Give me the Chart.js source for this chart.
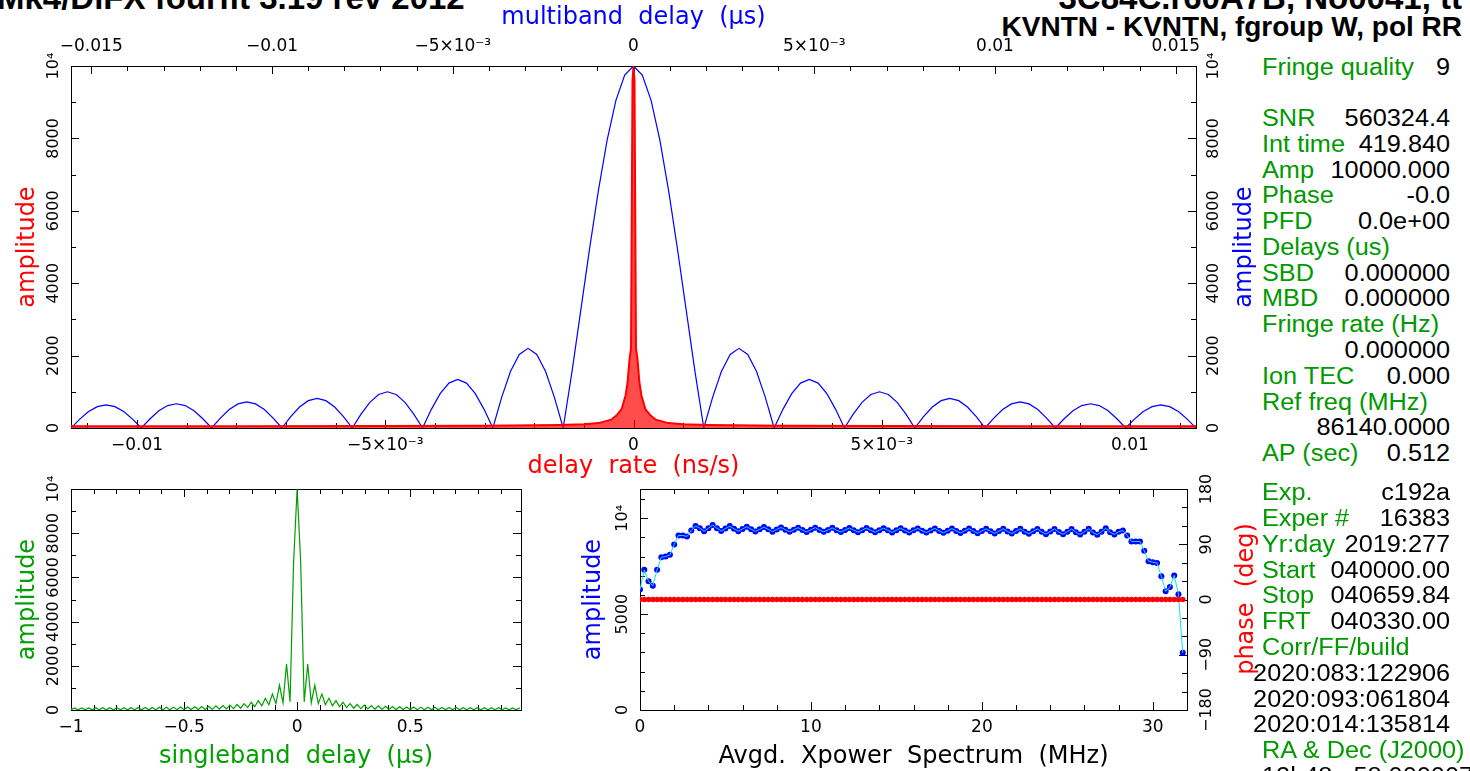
<!DOCTYPE html>
<html lang="en">
<head>
<meta charset="UTF-8" />
<title>fourfit fringe plot</title>
<script src="https://cdn.jsdelivr.net/npm/chart.js"></script>
<style>
  body {
    margin: 0;
    width: 1470px;
    height: 771px;
    overflow: hidden;
    background: #fff;
    position: relative;
    font-family: "Liberation Sans", Arial, sans-serif;
  }
  canvas { position: absolute; }
  #topChart { left: 0; top: 0; }
  #sbdChart { left: 0; top: 470px; }
  #specChart { left: 560px; top: 470px; }
  .head {
    position: absolute;
    font-weight: bold;
    white-space: nowrap;
    color: #000;
  }
  .big { font-size: 33px; line-height: 33px; top: -19px; }
  .sub { font-size: 28px; line-height: 28px; top: 13px; }
  .vtitle {
    position: absolute;
    font-family: "DejaVu Sans", sans-serif;
    font-size: 24px;
    line-height: 24px;
    white-space: pre;
    transform: translate(-50%, -50%) rotate(-90deg);
  }
  .panel {
    position: absolute;
    left: 1262px;
    width: 171px;
    transform-origin: 0 0;
    transform: scaleX(1.1);
    font-size: 23px;
    line-height: 25.77px;
  }
  .row {
    display: flex;
    justify-content: space-between;
    white-space: nowrap;
    height: 25.77px;
  }
  .row.r { justify-content: flex-end; }
  .k { color: #009900; }
  .v { color: #000; }
</style>
</head>
<body>
<div class="head big" style="left:-3px">Mk4/DiFX fourfit 3.19 rev 2012</div>
<div class="head big" style="right:8px">3C84C.r60A7B, No0041, tt</div>
<div class="head sub" style="right:8px">KVNTN - KVNTN, fgroup W, pol RR</div>

<canvas id="topChart" width="1250" height="485"></canvas>
<canvas id="sbdChart" width="540" height="301"></canvas>
<canvas id="specChart" width="690" height="301"></canvas>

<div class="vtitle" style="left:1243px; top:247px; color:#0000ff">amplitude</div>
<div class="vtitle" style="left:1245px; top:599px; color:#ff0000">phase  (deg)</div>

<div class="panel" style="top:54.6px">
  <div class="row"><span class="k">Fringe quality</span><span class="v">9</span></div>
  <div class="row"></div>
  <div class="row"><span class="k">SNR</span><span class="v">560324.4</span></div>
  <div class="row"><span class="k">Int time</span><span class="v">419.840</span></div>
  <div class="row"><span class="k">Amp</span><span class="v">10000.000</span></div>
  <div class="row"><span class="k">Phase</span><span class="v">-0.0</span></div>
  <div class="row"><span class="k">PFD</span><span class="v">0.0e+00</span></div>
  <div class="row"><span class="k">Delays (us)</span></div>
  <div class="row"><span class="k">SBD</span><span class="v">0.000000</span></div>
  <div class="row"><span class="k">MBD</span><span class="v">0.000000</span></div>
  <div class="row"><span class="k">Fringe rate (Hz)</span></div>
  <div class="row r"><span class="v">0.000000</span></div>
  <div class="row"><span class="k">Ion TEC</span><span class="v">0.000</span></div>
  <div class="row"><span class="k">Ref freq (MHz)</span></div>
  <div class="row r"><span class="v">86140.0000</span></div>
  <div class="row"><span class="k">AP (sec)</span><span class="v">0.512</span></div>
</div>

<div class="panel" style="top:480.4px">
  <div class="row"><span class="k">Exp.</span><span class="v">c192a</span></div>
  <div class="row"><span class="k">Exper #</span><span class="v">16383</span></div>
  <div class="row"><span class="k">Yr:day</span><span class="v">2019:277</span></div>
  <div class="row"><span class="k">Start</span><span class="v">040000.00</span></div>
  <div class="row"><span class="k">Stop</span><span class="v">040659.84</span></div>
  <div class="row"><span class="k">FRT</span><span class="v">040330.00</span></div>
  <div class="row"><span class="k">Corr/FF/build</span></div>
  <div class="row r"><span class="v">2020:083:122906</span></div>
  <div class="row r"><span class="v">2020:093:061804</span></div>
  <div class="row r"><span class="v">2020:014:135814</span></div>
  <div class="row"><span class="k">RA &amp; Dec (J2000)</span></div>
  <div class="row"><span class="v">12h48m</span><span class="v">58.000007</span></div>
</div>

<script>
  // ---- values ----

  // multiband delay (us), top axis; samples span the window evenly
  const mbdRange = [-0.01556, 0.01556];
  const mbdAmp = [
    0, 245, 455, 590, 640, 590, 455, 245,
    0, 255, 475, 620, 670, 620, 475, 255,
    0, 275, 510, 665, 720, 665, 510, 275,
    0, 315, 580, 755, 820, 755, 580, 315,
    0, 385, 710, 925, 1000, 925, 710, 385,
    0, 515, 950, 1240, 1340, 1240, 950, 515,
    0, 845, 1560, 2030, 2200, 2030, 1560, 845,
    0, 1550, 3250, 4950, 6550, 7950, 9050, 9750,
    10000, 9750, 9050, 7950, 6550, 4950, 3250, 1550,
    0, 845, 1560, 2030, 2200, 2030, 1560, 845,
    0, 515, 950, 1240, 1340, 1240, 950, 515,
    0, 385, 710, 925, 1000, 925, 710, 385,
    0, 315, 580, 755, 820, 755, 580, 315,
    0, 275, 510, 665, 720, 665, 510, 275,
    0, 255, 475, 620, 670, 620, 475, 255,
    0, 245, 455, 590, 640, 590, 455, 245,
    0
  ];

  // delay rate (ns/s), bottom axis
  const rateRange = [-0.01133, 0.01133];
  const rateX = [
    -0.01133, -0.008, -0.005, -0.003, -0.002, -0.0015, -0.001, -0.0007,
    -0.00045, -0.00034, -0.00024, -0.00016, -0.00012, -0.00008, -0.00005, -0.00002,
    0,
    0.00002, 0.00005, 0.00008, 0.00012, 0.00016, 0.00024, 0.00034, 0.00045,
    0.0007, 0.001, 0.0015, 0.002, 0.003, 0.005, 0.008, 0.01133
  ];
  const rateAmp = [
    45, 50, 55, 65, 75, 85, 105, 135,
    230, 350, 520, 900, 1250, 1900, 2200, 9600,
    10000,
    9600, 2200, 1900, 1250, 900, 520, 350, 230,
    135, 105, 85, 75, 65, 55, 50, 45
  ];

  // singleband delay (us), one sample every 1/64 us from -1
  const sbdRange = [-1, 0.99];
  const sbdStep = 1 / 64;
  const sbdAmp = [
    10, 95, 10, 95, 10, 95, 10, 100, 10, 100, 10, 100, 10, 100, 10, 105,
    10, 105, 10, 110, 10, 110, 10, 115, 10, 120, 10, 125, 10, 130, 15, 135,
    15, 140, 20, 150, 20, 160, 25, 170, 30, 185, 35, 200, 45, 220, 60, 250,
    80, 290, 110, 350, 150, 420, 190, 530, 240, 720, 290, 1130, 330, 2080, 370, 6700,
    10000,
    6700, 370, 2080, 330, 1130, 290, 720, 240, 530, 190, 420, 150, 350, 110, 290,
    80, 250, 60, 220, 45, 200, 35, 185, 30, 170, 25, 160, 20, 150, 20, 140,
    15, 135, 15, 130, 10, 125, 10, 120, 10, 115, 10, 110, 10, 110, 10, 105,
    10, 105, 10, 100, 10, 100, 10, 100, 10, 100, 10, 95, 10, 95, 10, 95
  ];

  // averaged cross-power spectrum, one point every 0.25 MHz from 0
  const specStep = 0.25;
  const specAmp = [
    6280, 7310, 6710, 6480, 7310, 7970, 8000, 8090,
    8630, 9100, 9100, 9050, 9360, 9600, 9480, 9320,
    9480, 9650, 9480, 9330, 9460, 9590, 9450, 9320,
    9440, 9560, 9430, 9310, 9420, 9540, 9420, 9300,
    9410, 9520, 9400, 9290, 9400, 9510, 9390, 9280,
    9400, 9510, 9390, 9290, 9390, 9500, 9380, 9280,
    9390, 9490, 9380, 9270, 9380, 9490, 9370, 9270,
    9380, 9480, 9370, 9260, 9370, 9480, 9360, 9250,
    9370, 9470, 9350, 9250, 9360, 9470, 9340, 9240,
    9350, 9460, 9340, 9230, 9350, 9460, 9330, 9220,
    9340, 9450, 9320, 9210, 9330, 9450, 9310, 9200,
    9330, 9450, 9300, 9190, 9320, 9440, 9290, 9170,
    9310, 9440, 9280, 9160, 9300, 9440, 9270, 9150,
    9300, 9450, 9260, 9140, 9300, 9480, 9270, 9150,
    9290, 9360, 9100, 8790, 8790, 8790, 8300, 7760,
    7710, 7660, 6970, 6190, 6410, 7020, 6030, 2980
  ];
  const specPhase = [
    0, 0, 0, 0, 0, 0, 0, 0, 0, 0, 0, 0, 0, 0, 0, 0,
    0, 0, 0, 0, 0, 0, 0, 0, 0, 0, 0, 0, 0, 0, 0, 0,
    0, 0, 0, 0, 0, 0, 0, 0, 0, 0, 0, 0, 0, 0, 0, 0,
    0, 0, 0, 0, 0, 0, 0, 0, 0, 0, 0, 0, 0, 0, 0, 0,
    0, 0, 0, 0, 0, 0, 0, 0, 0, 0, 0, 0, 0, 0, 0, 0,
    0, 0, 0, 0, 0, 0, 0, 0, 0, 0, 0, 0, 0, 0, 0, 0,
    0, 0, 0, 0, 0, 0, 0, 0, 0, 0, 0, 0, 0, 0, 0, 0,
    0, 0, 0, 0, 0, 0, 0, 0, 0, 0, 0, 0, 0, 0, 0, 0
  ];

  // tick labels
  const mbdTickValues = [-0.015, -0.01, -0.005, 0, 0.005, 0.01, 0.015];
  const mbdTickLabels = ['−0.015', '−0.01', '−5×10⁻³', '0', '5×10⁻³', '0.01', '0.015'];
  const rateTickValues = [-0.01, -0.005, 0, 0.005, 0.01];
  const rateTickLabels = ['−0.01', '−5×10⁻³', '0', '5×10⁻³', '0.01'];
  const ampTickValues = [0, 2000, 4000, 6000, 8000, 10000];
  const ampTickLabels = ['0', '2000', '4000', '6000', '8000', '10⁴'];
  const sbdTickValues = [-1, -0.5, 0, 0.5];
  const sbdTickLabels = ['−1', '−0.5', '0', '0.5'];
  const freqTickValues = [0, 10, 20, 30];
  const freqTickLabels = ['0', '10', '20', '30'];
  const specAmpTickValues = [0, 5000, 10000];
  const specAmpTickLabels = ['0', '5000', '10⁴'];
  const phaseTickValues = [-180, -90, 0, 90, 180];
  const phaseTickLabels = ['−180', '−90', '0', '90', '180'];

  // ---- helpers ----
  Chart.defaults.font.family = "'DejaVu Sans', sans-serif";
  Chart.defaults.color = '#000';

  const titleFont = { size: 24, lineHeight: 1 };

  function labeler(vals, labs) {
    return (v) => {
      const i = vals.findIndex((t) => Math.abs(t - v) < 1e-6);
      return i < 0 ? '' : labs[i];
    };
  }

  // linear axis, minor ticks every `step`, labels only where a tick label is listed
  function axis(position, min, max, step, vals, labs, size, tickPad, title) {
    const vertical = position === 'left' || position === 'right';
    const cfg = {
      type: 'linear',
      position: position,
      min: min,
      max: max,
      grid: { display: false, drawTicks: false },
      border: { display: false },
      ticks: {
        maxTicksLimit: 1000,
        autoSkip: false,
        font: { size: vertical ? 16 : 17 },
        color: '#000',
        padding: tickPad,
        minRotation: vertical ? 90 : 0,
        maxRotation: vertical ? 90 : 0,
        crossAlign: vertical ? 'center' : 'near',
        callback: labeler(vals, labs),
      },
      // one tick on every multiple of the minor step inside the axis range
      afterBuildTicks: (s) => {
        const ticks = [];
        const first = Math.ceil(min / step - 1e-9);
        const last = Math.floor(max / step + 1e-9);
        for (let n = first; n <= last; n++) ticks.push({ value: +(n * step).toFixed(10) });
        s.ticks = ticks;
      },
      // keep every minor tick, and give the axis a fixed band
      afterTickToLabelConversion: (s) => {
        s.$allTicks = s.ticks.slice();
      },
      afterFit: (s) => {
        if (s.$allTicks) {
          s.ticks = s.$allTicks;
          s._labelSizes = null;
        }
        if (vertical) s.width = size;
        else s.height = size;
      },
    };
    if (title) cfg.title = Object.assign({ display: true, font: titleFont }, title);
    return cfg;
  }

  // PGPLOT-style box: frame with ticks pointing into the plot
  const frameTicks = {
    id: 'frameTicks',
    beforeDatasetsDraw(chart, args, opts) {
      const { ctx, chartArea: a } = chart;
      const mirror = opts.mirror || [];
      ctx.save();
      ctx.strokeStyle = '#000';
      ctx.lineWidth = 1;
      ctx.beginPath();
      Object.values(chart.scales).forEach((s) => {
        const sides = [s.position];
        if (mirror.includes(s.id)) {
          sides.push({ left: 'right', right: 'left', top: 'bottom', bottom: 'top' }[s.position]);
        }
        s.ticks.forEach((t) => {
          const p = Math.round(s.getPixelForValue(t.value)) + 0.5;
          const len = t.label ? 8 : 5;
          sides.forEach((side) => {
            if (side === 'top') { ctx.moveTo(p, a.top); ctx.lineTo(p, a.top + len); }
            if (side === 'bottom') { ctx.moveTo(p, a.bottom); ctx.lineTo(p, a.bottom - len); }
            if (side === 'left') { ctx.moveTo(a.left, p); ctx.lineTo(a.left + len, p); }
            if (side === 'right') { ctx.moveTo(a.right, p); ctx.lineTo(a.right - len, p); }
          });
        });
      });
      ctx.stroke();
      ctx.strokeRect(Math.round(a.left) + 0.5, Math.round(a.top) + 0.5,
        Math.round(a.right - a.left), Math.round(a.bottom - a.top));
      ctx.restore();
    },
  };

  const common = {
    responsive: false,
    animation: false,
    devicePixelRatio: 1,
    elements: { point: { radius: 0 }, line: { tension: 0 } },
  };

  // ---- top: multiband delay + delay rate ----
  const mbdPoints = mbdAmp.map((y, i) => ({
    x: mbdRange[0] + (i * (mbdRange[1] - mbdRange[0])) / (mbdAmp.length - 1),
    y: y,
  }));
  const ratePoints = rateX.map((x, i) => ({ x: x, y: rateAmp[i] }));

  new Chart(document.getElementById('topChart'), {
    type: 'line',
    data: {
      datasets: [
        {
          data: ratePoints,
          xAxisID: 'xRate',
          yAxisID: 'yL',
          borderColor: '#ff0000',
          borderWidth: 2,
          fill: 'origin',
          backgroundColor: 'rgba(255,0,0,0.7)',
        },
        {
          data: mbdPoints,
          xAxisID: 'xMbd',
          yAxisID: 'yR',
          borderColor: '#0000ff',
          borderWidth: 1.2,
          fill: false,
        },
      ],
    },
    options: Object.assign({}, common, {
      plugins: { legend: { display: false }, tooltip: { enabled: false }, frameTicks: {} },
      scales: {
        xMbd: axis('top', mbdRange[0], mbdRange[1], 0.001, mbdTickValues, mbdTickLabels, 66, 9.5,
          { text: 'multiband  delay  (µs)', color: '#0000ff', padding: { top: 6 } }),
        xRate: axis('bottom', rateRange[0], rateRange[1], 0.001, rateTickValues, rateTickLabels, 57, 7,
          { text: 'delay  rate  (ns/s)', color: '#ff0000', padding: { bottom: 6 } }),
        yL: axis('left', 0, 10000, 1000, ampTickValues, ampTickLabels, 71, -3,
          { text: 'amplitude', color: '#ff0000', padding: { top: 16 } }),
        yR: axis('right', 0, 10000, 1000, ampTickValues, ampTickLabels, 54, -3),
      },
    }),
    plugins: [frameTicks],
  });

  // ---- bottom left: singleband delay ----
  const sbdPoints = sbdAmp.map((y, i) => ({ x: sbdRange[0] + i * sbdStep, y: y }));

  new Chart(document.getElementById('sbdChart'), {
    type: 'line',
    data: {
      datasets: [
        { data: sbdPoints, borderColor: '#00a000', borderWidth: 1.2, fill: false },
      ],
    },
    options: Object.assign({}, common, {
      layout: { padding: { top: 19, right: 19 } },
      plugins: { legend: { display: false }, tooltip: { enabled: false }, frameTicks: { mirror: ['x', 'y'] } },
      scales: {
        x: axis('bottom', sbdRange[0], sbdRange[1], 0.1, sbdTickValues, sbdTickLabels, 61, 7,
          { text: 'singleband  delay  (µs)', color: '#00a000', padding: { bottom: 2 } }),
        y: axis('left', 0, 10000, 1000, ampTickValues, ampTickLabels, 71, -3,
          { text: 'amplitude', color: '#00a000', padding: { top: 16 } }),
      },
    }),
    plugins: [frameTicks],
  });

  // ---- bottom middle: averaged cross-power spectrum ----
  const specAmpPoints = specAmp.map((y, i) => ({ x: i * specStep, y: y }));
  const specPhasePoints = specPhase.map((y, i) => ({ x: i * specStep, y: y }));

  new Chart(document.getElementById('specChart'), {
    type: 'line',
    data: {
      datasets: [
        {
          data: specPhasePoints,
          yAxisID: 'yP',
          showLine: false,
          pointRadius: 2.7,
          pointBorderWidth: 0,
          pointBackgroundColor: '#ff0000',
        },
        {
          data: specAmpPoints,
          yAxisID: 'yA',
          borderColor: '#00e8ff',
          borderWidth: 1,
          pointRadius: 0,
          fill: false,
        },
        {
          data: specAmpPoints,
          yAxisID: 'yA',
          showLine: false,
          pointRadius: 3,
          pointBorderWidth: 0,
          pointBackgroundColor: '#0000ff',
        },
      ],
    },
    options: Object.assign({}, common, {
      layout: { padding: { top: 19 } },
      plugins: { legend: { display: false }, tooltip: { enabled: false }, frameTicks: { mirror: ['x'] } },
      scales: {
        x: axis('bottom', 0, 32, 2, freqTickValues, freqTickLabels, 61, 7,
          { text: 'Avgd.  Xpower  Spectrum  (MHz)', color: '#000', padding: { bottom: 2 } }),
        yA: axis('left', 0, 11525, 1000, specAmpTickValues, specAmpTickLabels, 80, -3,
          { text: 'amplitude', color: '#0000ff', padding: { top: 22 } }),
        yP: axis('right', -180, 180, 30, phaseTickValues, phaseTickLabels, 63, -2),
      },
    }),
    plugins: [frameTicks],
  });
</script>
</body>
</html>
